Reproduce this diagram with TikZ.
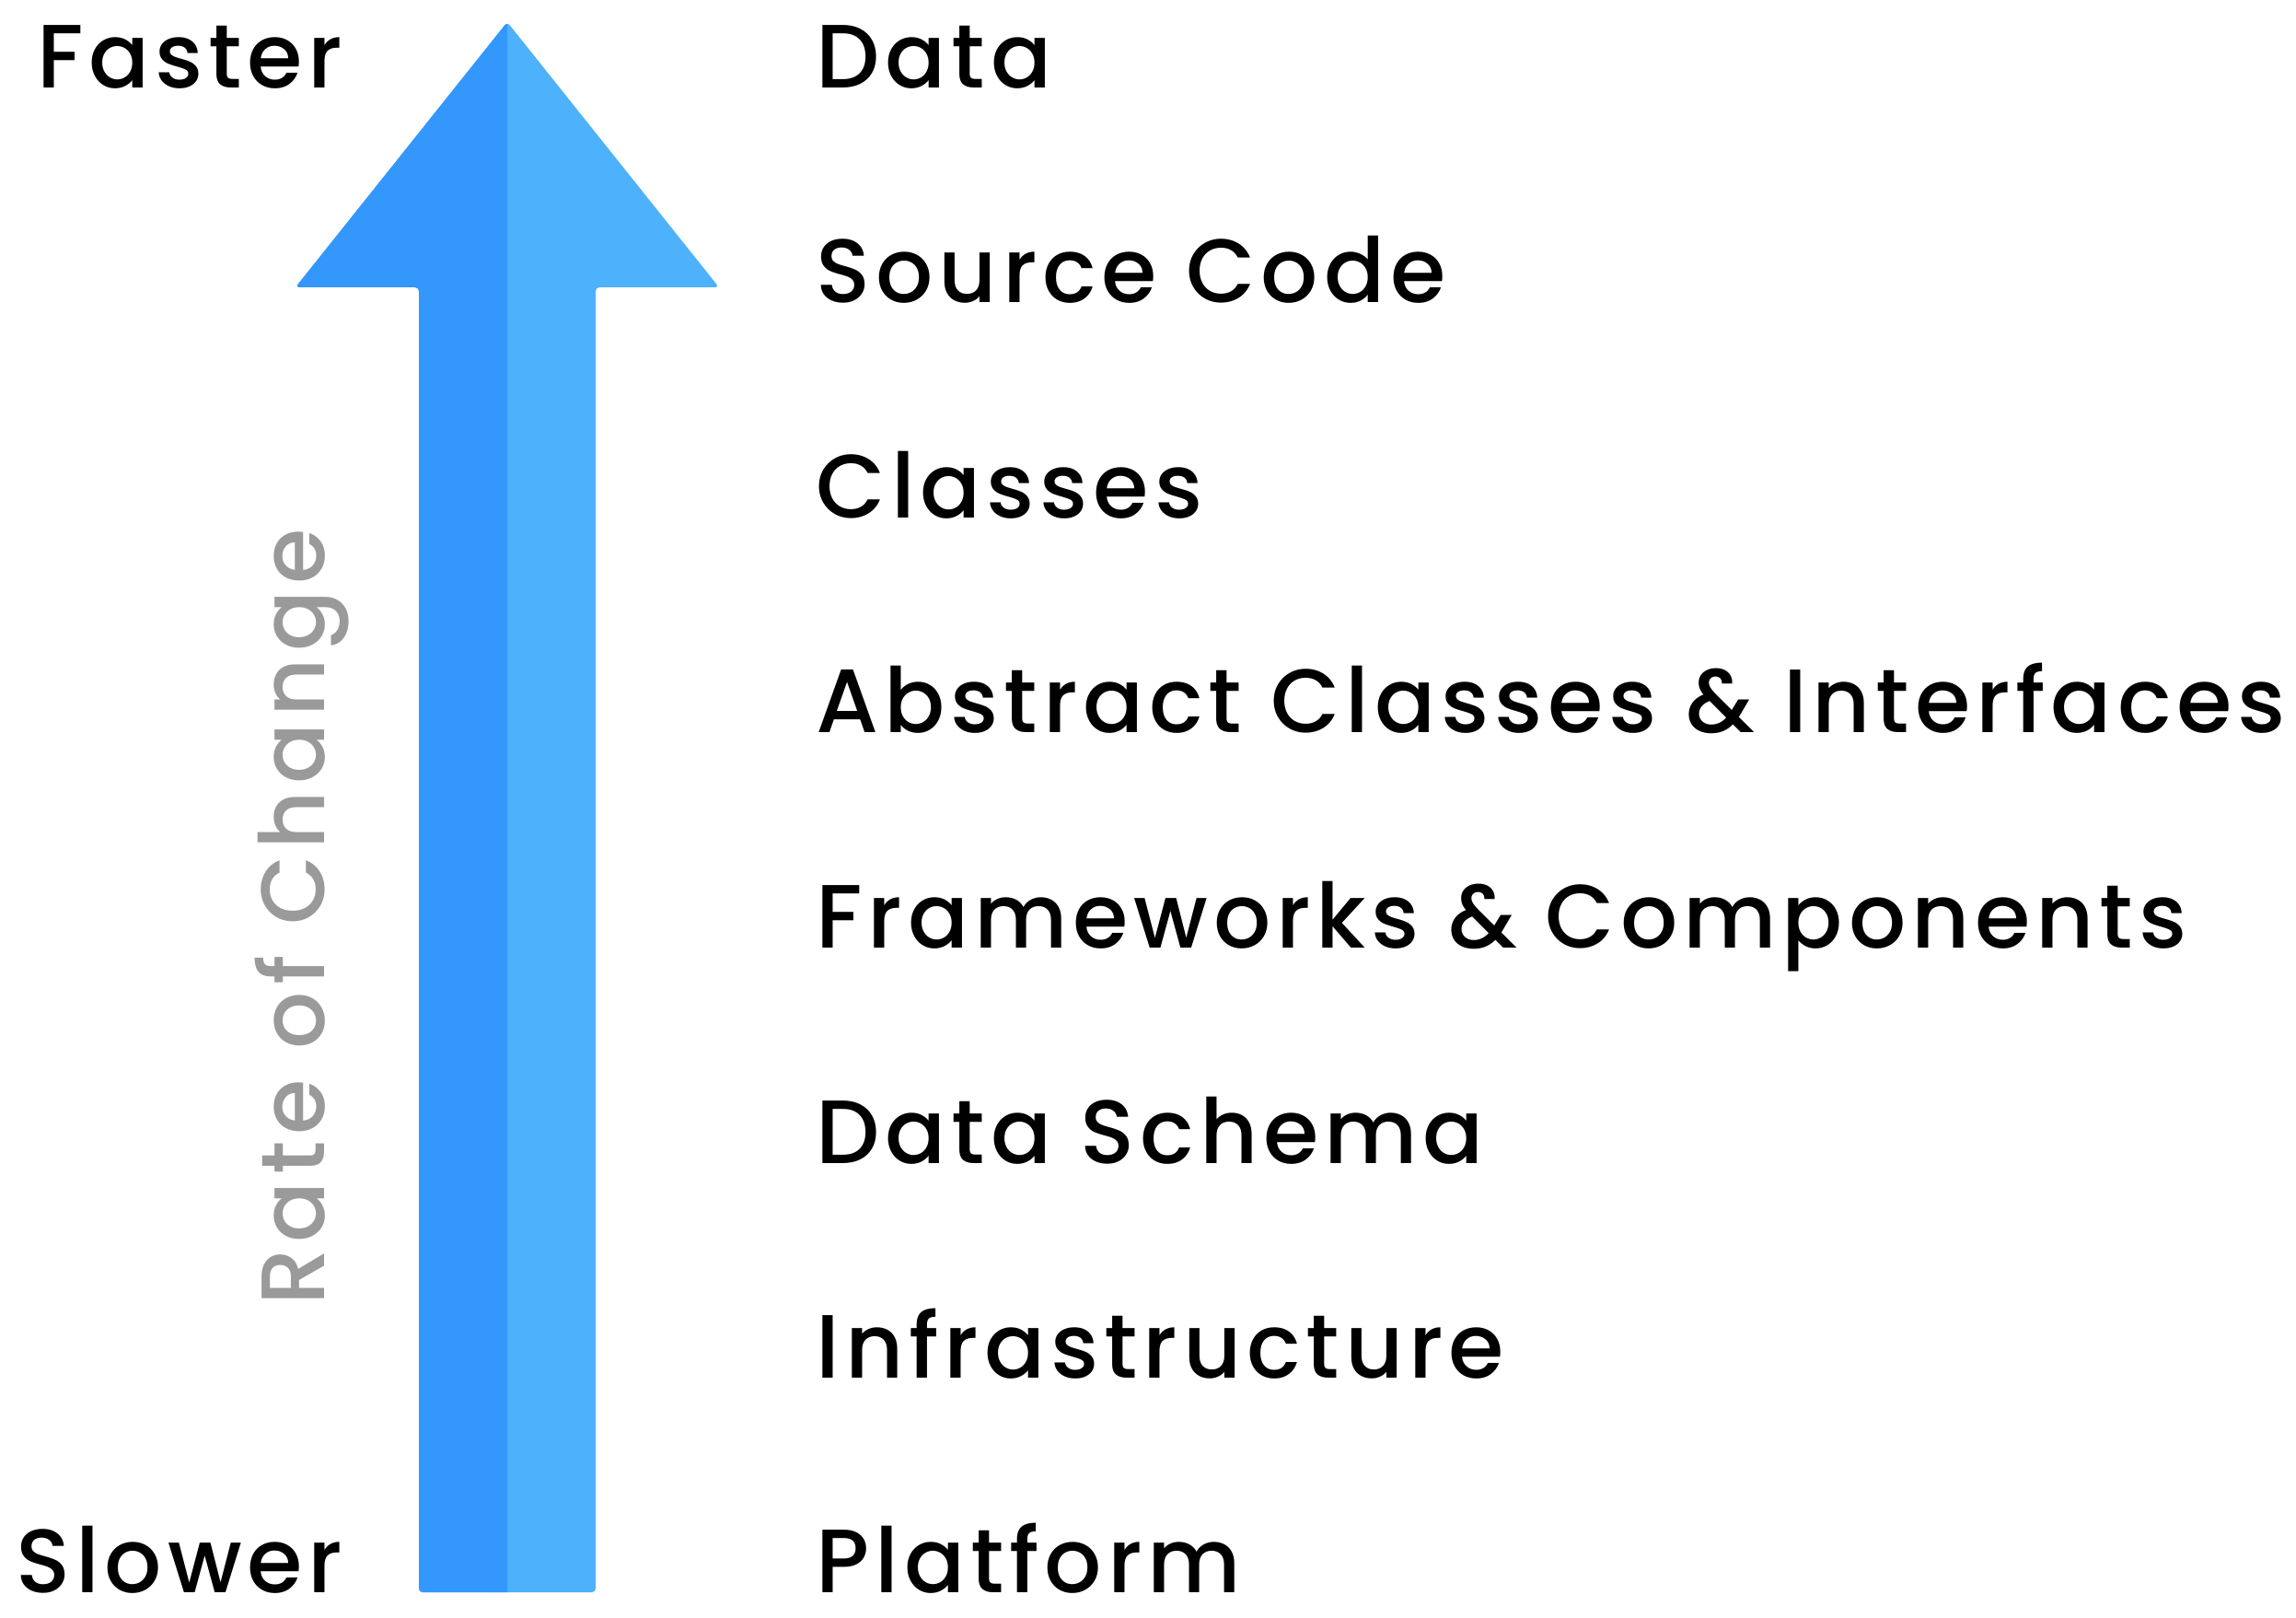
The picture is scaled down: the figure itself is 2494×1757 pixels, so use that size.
\documentclass[tikz,border=0pt]{standalone}
\usepackage{fontspec}
\setmainfont{Poppins Medium}[LetterSpace=6]
\newfontfamily\ratefont{Poppins Medium}[LetterSpace=7.3]
\definecolor{arrowdark}{HTML}{3397FB}
\definecolor{arrowlight}{HTML}{4DB1FC}
\definecolor{rategray}{HTML}{9A9A9A}
\tikzset{
  lab/.style={anchor=base west, inner sep=0pt, text depth=0pt, font=\fontsize{27.8}{30}\selectfont, text=black},
  sidelab/.style={anchor=base east, inner sep=0pt, text depth=0pt, font=\fontsize{27.8}{30}\selectfont, text=black},
}
\begin{document}
\begin{tikzpicture}[x=0.1mm,y=-0.1mm]
\useasboundingbox (0,0) rectangle (2494,1757);
\def\arrowpath{(551,24) -- (321,312) -- (455,312) -- (455,1729) -- (647,1729) -- (647,312) -- (781,312) -- cycle}
\fill[arrowlight, rounded corners=0.4mm] \arrowpath;
\begin{scope}
  \clip (0,0) rectangle (551,1757);
  \fill[arrowdark, rounded corners=0.4mm] \arrowpath;
\end{scope}
\node[sidelab] (faster) at (373,96) {Faster};
\node[sidelab] (slower) at (373,1729) {Slower};
\node[anchor=base, inner sep=0pt, rotate=90, font=\ratefont\fontsize{27.8}{30}\selectfont, text=rategray] (rate) at (352,996) {Rate of Change};
\node[lab] (l1) at (886,96) {Data};
\node[lab] (l2) at (886,329) {Source Code};
\node[lab] (l3) at (886,563) {Classes};
\node[lab] (l4) at (886,796) {Abstract Classes \& Interfaces};
\node[lab] (l5) at (886,1029) {Frameworks \& Components};
\node[lab] (l6) at (886,1263) {Data Schema};
\node[lab] (l7) at (886,1496) {Infrastructure};
\node[lab] (l8) at (886,1729) {Platform};
\end{tikzpicture}
\end{document}
